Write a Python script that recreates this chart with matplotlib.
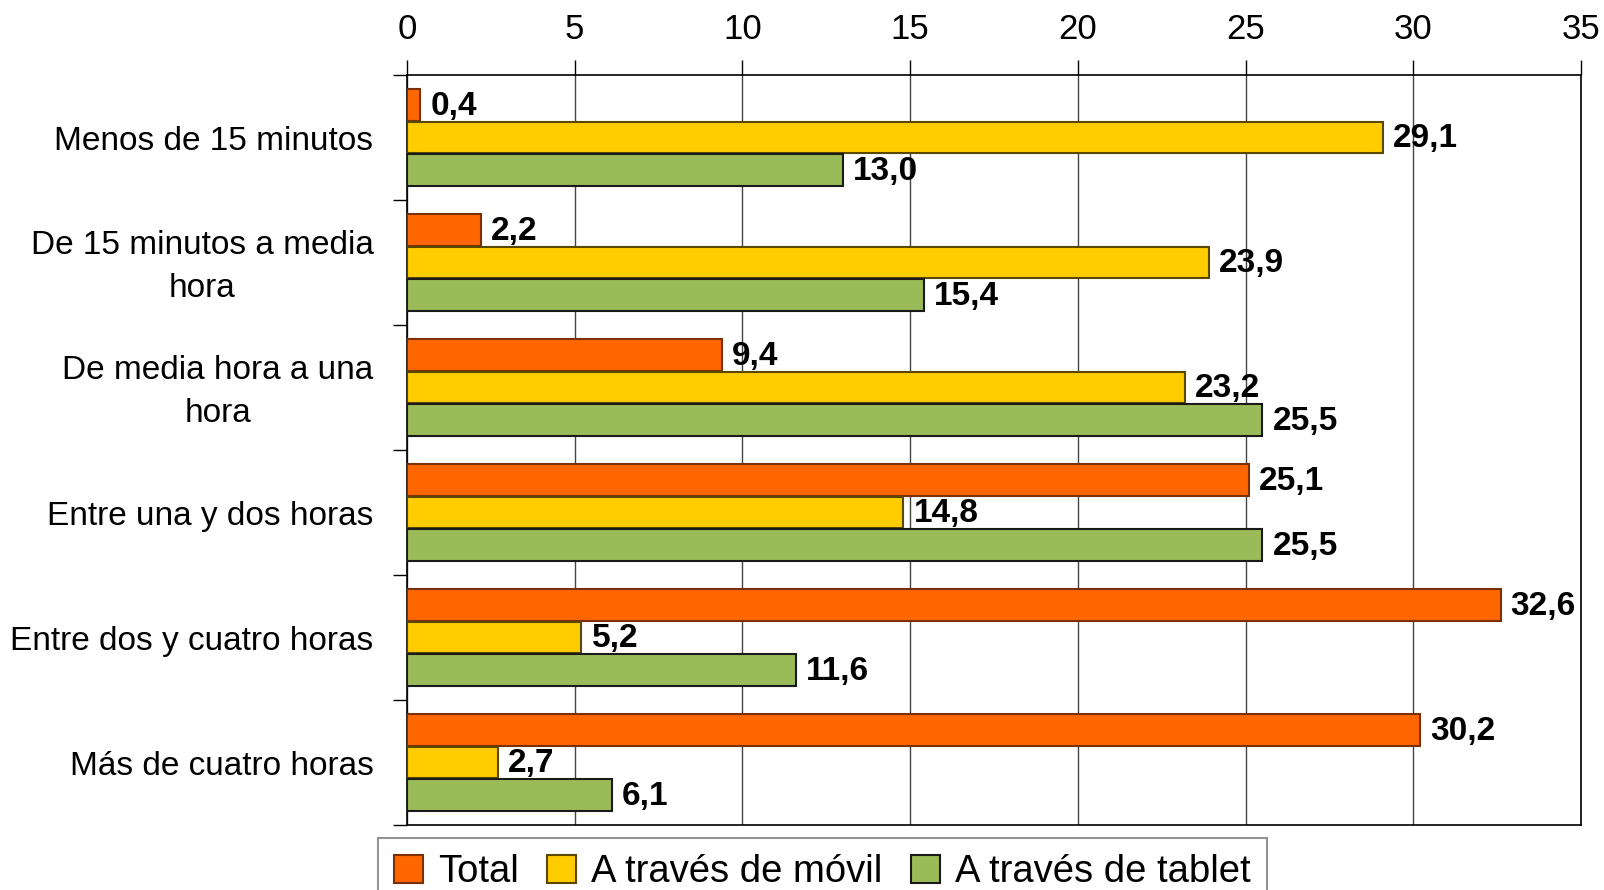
import matplotlib.pyplot as plt
import numpy as np

categories = ["Menos de 15 minutos", "De 15 minutos a media\nhora",
              "De media hora a una\nhora", "Entre una y dos horas",
              "Entre dos y cuatro horas", "Más de cuatro horas"]
series = ["Total", "A través de móvil", "A través de tablet"]
total = [0.4, 2.2, 9.4, 25.1, 32.6, 30.2]
movil = [29.1, 23.9, 23.2, 14.8, 5.2, 2.7]
tablet = [13.0, 15.4, 25.5, 25.5, 11.6, 6.1]

COLORS = ["#FF6600", "#FFCC00", "#9BBB59"]
EDGES = ["#7a3000", "#5a4800", "#1a1a1a"]

plt.rcParams["font.family"] = ["Liberation Sans", "DejaVu Sans"]

fig = plt.figure(figsize=(16.04, 8.9), dpi=100)
ax = fig.add_axes([0.2537, 0.0730, 0.7320, 0.8427])

y = np.arange(len(categories))
h = 0.25
offsets = [-0.26, 0.0, 0.26]
for vals, off, c, ec, name in zip([total, movil, tablet], offsets, COLORS, EDGES, series):
    bars = ax.barh(y + off, vals, height=h, color=c, edgecolor=ec, linewidth=1.5,
                   label=name, zorder=3)
    for b, v in zip(bars, vals):
        ax.text(v + 0.3, b.get_y() + b.get_height() / 2 + 0.01, f"{v:.1f}".replace(".", ","),
                ha="left", va="center", fontsize=24, fontweight="bold", zorder=4)

ax.set_xlim(0, 35)
ax.set_ylim(len(categories) - 0.5, -0.5)
ax.xaxis.tick_top()
ax.set_xticks(range(0, 36, 5))
ax.tick_params(axis="x", labelsize=25, length=11, width=1, pad=10, colors="black")
ax.grid(axis="x", color="#444444", linewidth=1, zorder=0)

# category labels sit between boundary ticks
ax.set_yticks(np.arange(len(categories) + 1) - 0.5)
ax.set_yticklabels([])
ax.tick_params(axis="y", length=10, width=1)
for i, lab in enumerate(categories):
    ax.text(-1.0, i + 0.035, lab, ha="right", va="center", multialignment="center",
            fontsize=24, linespacing=1.5)

for s in ["top", "bottom", "left", "right"]:
    ax.spines[s].set_color("black")
    ax.spines[s].set_linewidth(1.2)

leg = fig.legend(loc="upper left", bbox_to_anchor=(0.2357, 0.0584), ncol=3,
                 frameon=True, fancybox=False, borderaxespad=0,
                 handlelength=0.75, handleheight=0.75, handletextpad=0.4,
                 columnspacing=0.75, borderpad=0.42, prop={"size": 27.5})
leg.get_frame().set_edgecolor("#777777")
leg.get_frame().set_linewidth(1.5)

fig.savefig("out.png", dpi=100)
